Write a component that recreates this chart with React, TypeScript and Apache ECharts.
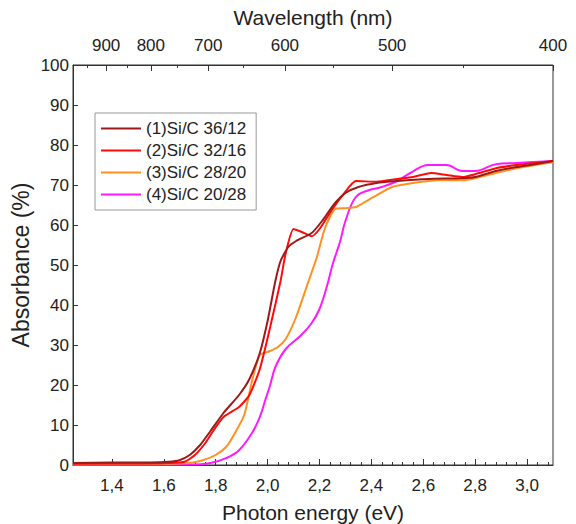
import React, { useEffect, useRef } from "react";
import * as echarts from "echarts";

const seriesNames = ["(1)Si/C 36/12", "(2)Si/C 32/16", "(3)Si/C 28/20", "(4)Si/C 20/28"];
const seriesColors = ["#9B1B1B", "#FF0A0A", "#FF9122", "#FF19FF"];

const s1: number[][] = [[1.25,0.5],[1.4,0.6],[1.55,0.6],[1.62,0.8],[1.66,1.2],[1.7,2.5],[1.74,5],[1.78,8.5],[1.83,13],[1.89,17.5],[1.93,21.5],[1.97,28],[2.0,36],[2.03,46],[2.05,51],[2.08,54.5],[2.11,56],[2.17,58],[2.21,61],[2.26,65.5],[2.3,68],[2.35,69.5],[2.42,70.5],[2.5,71],[2.62,71.5],[2.75,71.7],[2.8,72],[2.88,73.5],[2.96,74.5],[3.03,75.2],[3.1,76]];
const s2: number[][] = [[1.25,0.3],[1.5,0.4],[1.62,0.5],[1.68,0.8],[1.72,2.5],[1.76,5.5],[1.79,8.5],[1.83,12],[1.89,14.5],[1.93,17.5],[1.97,24],[2.01,34.5],[2.05,46],[2.07,53],[2.1,59],[2.13,58.3],[2.17,57.2],[2.2,59],[2.25,64],[2.29,67.5],[2.34,71],[2.42,70.8],[2.5,71.5],[2.56,72],[2.63,73],[2.69,72.5],[2.75,72],[2.8,72.7],[2.88,74.2],[2.96,75],[3.1,76]];
const s3: number[][] = [[1.25,0.3],[1.6,0.3],[1.7,0.5],[1.75,1.2],[1.8,2.5],[1.84,4.5],[1.87,7.5],[1.91,12.5],[1.94,21],[1.97,27.5],[2.01,28.5],[2.04,29.5],[2.07,31.5],[2.11,37],[2.15,44.5],[2.19,52],[2.22,59],[2.26,64],[2.3,64.2],[2.34,64.5],[2.4,66.7],[2.48,69.5],[2.56,70.5],[2.66,71.2],[2.75,71.2],[2.8,71.7],[2.88,73],[2.96,74.2],[3.1,75.7]];
const s4: number[][] = [[1.25,0],[1.7,0.1],[1.78,0.5],[1.84,1.7],[1.89,3.7],[1.94,8],[1.97,12],[1.99,16],[2.01,20],[2.03,24.5],[2.07,29],[2.13,32.5],[2.17,35.5],[2.2,39],[2.23,45],[2.25,50],[2.28,56],[2.3,61],[2.34,67],[2.39,68.7],[2.44,69.5],[2.5,71],[2.55,73],[2.62,75],[2.69,75],[2.75,73.5],[2.8,73.5],[2.88,75.2],[2.96,75.5],[3.1,76]];
const allSeries = [s1, s2, s3, s4];

const energyLabels = [1.4, 1.6, 1.8, 2.0, 2.2, 2.4, 2.6, 2.8, 3.0];
const energyMinor = [1.28,1.32,1.36,1.44,1.48,1.52,1.56,1.64,1.68,1.72,1.76,1.84,1.88,1.92,1.96,2.04,2.08,2.12,2.16,2.24,2.28,2.32,2.36,2.44,2.48,2.52,2.56,2.64,2.68,2.72,2.76,2.84,2.88,2.92,2.96,3.04,3.08];
const wavelengthLabels = [900, 800, 700, 600, 500, 400];
const wavelengthMinor = [950, 850, 750, 650, 550, 450];
const HC = 1240;

const FONT = "'Liberation Sans', Arial, sans-serif";
const AX = "#333";
const TXT = "#222";

export default function App() {
  const ref = useRef<HTMLDivElement>(null);
  useEffect(() => {
    if (!ref.current) return;
    const chart = echarts.init(ref.current, null, { renderer: "svg" });
    const baseX = {
      type: "value" as const,
      min: 1.25,
      max: 3.1,
      splitLine: { show: false },
    };
    chart.setOption({
      animation: false,
      textStyle: { fontFamily: FONT },
      grid: {
        left: 73, right: 23, top: 65, bottom: 59,
        outerBoundsMode: "none",
        containLabel: false,
        show: true, borderColor: AX, borderWidth: 1,
      },
      legend: {
        orient: "vertical",
        left: 95,
        top: 113,
        icon: "rect",
        itemWidth: 40,
        itemHeight: 2,
        itemGap: 5,
        padding: [7, 10, 7, 6],
        borderColor: "#999",
        borderWidth: 1,
        textStyle: { fontSize: 17, color: TXT, fontFamily: FONT },
        data: seriesNames,
      },
      xAxis: [
        {
          ...baseX,
          position: "bottom",
          name: "Photon energy (eV)",
          nameLocation: "middle",
          nameGap: 37,
          nameMoveOverlap: false,
          nameTextStyle: { fontSize: 21, color: TXT, fontFamily: FONT },
          axisLine: { show: true, lineStyle: { color: AX } },
          axisTick: { show: true, inside: true, length: 6, customValues: energyLabels, lineStyle: { color: AX } },
          axisLabel: {
            customValues: energyLabels,
            fontSize: 17,
            color: TXT,
            margin: 12,
            formatter: (v: number) => v.toFixed(1).replace(".", ","),
          },
        },
        {
          ...baseX,
          position: "top",
          name: "Wavelength (nm)",
          nameLocation: "middle",
          nameGap: 37,
          nameMoveOverlap: false,
          nameTextStyle: { fontSize: 21, color: TXT, fontFamily: FONT },
          axisLine: { show: true, lineStyle: { color: AX } },
          axisTick: { show: true, inside: true, length: 6, customValues: wavelengthLabels.map((w) => HC / w), lineStyle: { color: AX } },
          axisLabel: {
            customValues: wavelengthLabels.map((w) => HC / w),
            fontSize: 17,
            color: TXT,
            margin: 11,
            formatter: (v: number) => String(Math.round(HC / v / 10) * 10),
          },
        },
        {
          ...baseX,
          position: "bottom",
          axisLine: { show: false },
          axisLabel: { show: false },
          axisTick: { show: true, inside: true, length: 3, customValues: energyMinor, lineStyle: { color: AX } },
        },
        {
          ...baseX,
          position: "top",
          axisLine: { show: false },
          axisLabel: { show: false },
          axisTick: { show: true, inside: true, length: 3, customValues: wavelengthMinor.map((w) => HC / w), lineStyle: { color: AX } },
        },
      ],
      yAxis: {
        type: "value",
        min: 0,
        max: 100,
        interval: 10,
        name: "Absorbance (%)",
        nameLocation: "middle",
        nameGap: 41,
        nameMoveOverlap: false,
        nameTextStyle: { fontSize: 23, color: TXT, fontFamily: FONT },
        splitLine: { show: false },
        axisLine: { show: true, lineStyle: { color: AX } },
        axisTick: { show: true, inside: true, length: 5, lineStyle: { color: AX } },
        axisLabel: { fontSize: 17, color: TXT, margin: 4 },
      },
      series: allSeries.map((d, i) => ({
        type: "line",
        name: seriesNames[i],
        xAxisIndex: 0,
        data: d,
        symbol: "none",
        smooth: i === 3 ? 0.4 : 0.2,
        lineStyle: { color: seriesColors[i], width: 2 },
        itemStyle: { color: seriesColors[i] },
        z: 10 - i,
      })),
    });
    return () => chart.dispose();
  }, []);
  return (
    <div
      ref={ref}
      style={{ position: "absolute", left: 0, top: 0, width: 576, height: 524 }}
    />
  );
}
